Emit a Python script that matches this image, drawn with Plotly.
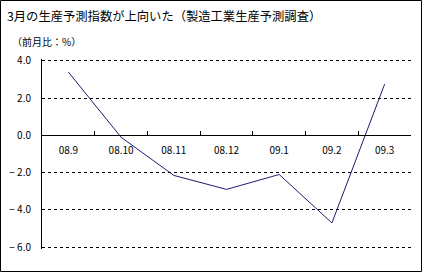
import plotly.graph_objects as go

months = ["08.9", "08.10", "08.11", "08.12", "09.1", "09.2", "09.3"]
values = [3.4, -0.1, -2.15, -2.9, -2.1, -4.7, 2.75]
y_ticks = [4, 2, 0, -2, -4, -6]
y_tick_labels = ["4.0", "2.0", "0.0", "\u2212\u00a02.0", "\u2212\u00a04.0", "\u2212\u00a06.0"]

W, H = 423, 273
L, R, T, B = 42, 12, 59, 24
pw, ph = W - L - R, H - T - B
FONT = "Noto Sans CJK JP"

fig = go.Figure()
fig.add_trace(go.Scatter(x=months, y=values, mode="lines",
                         line=dict(color="#1c1c70", width=1), hoverinfo="skip"))

ymin, ymax = -6.1, 4.1
fig.update_layout(
    width=W, height=H,
    margin=dict(l=L, r=R, t=T, b=B, autoexpand=False),
    paper_bgcolor="white", plot_bgcolor="white",
    showlegend=False,
    font=dict(family=FONT, color="black", size=10),
    xaxis=dict(type="category", range=[-0.5, 6.5], anchor="free",
               position=(0 - ymin) / (ymax - ymin), automargin=False,
               showline=True, linecolor="black", linewidth=1,
               showgrid=False, zeroline=False,
               ticks="inside", tickson="boundaries", ticklen=4,
               tickcolor="black", tickwidth=1,
               ticklabelstandoff=6, tickfont=dict(size=10, family=FONT)),
    yaxis=dict(range=[ymin, ymax], tickvals=y_ticks, ticktext=y_tick_labels,
               automargin=False,
               showline=True, linecolor="black", linewidth=1,
               showgrid=True, gridcolor="black", gridwidth=1, griddash="3px,3px",
               zeroline=False, ticks="outside", ticklen=8, tickcolor="white",
               tickfont=dict(size=10, family=FONT)),
)

def px_to_paper_x(px):
    return (px - L) / pw

def py_to_paper_y(py):
    return (H - B - py) / ph

fig.add_shape(type="rect", xref="paper", yref="paper",
              x0=px_to_paper_x(0.5), x1=px_to_paper_x(421.5),
              y0=py_to_paper_y(271.5), y1=py_to_paper_y(0.5),
              line=dict(color="black", width=1), fillcolor="rgba(0,0,0,0)", layer="below")

fig.add_annotation(text="3月の生産予測指数が上向いた（製造工業生産予測調査）",
                   xref="paper", yref="paper",
                   x=px_to_paper_x(5), y=py_to_paper_y(16),
                   xanchor="left", yanchor="middle", showarrow=False,
                   font=dict(size=12.3, family=FONT, color="black"))
fig.add_annotation(text="（前月比：%）",
                   xref="paper", yref="paper",
                   x=px_to_paper_x(10), y=py_to_paper_y(42),
                   xanchor="left", yanchor="middle", showarrow=False,
                   font=dict(size=10, family=FONT, color="black"))

fig.write_html("out.html")
